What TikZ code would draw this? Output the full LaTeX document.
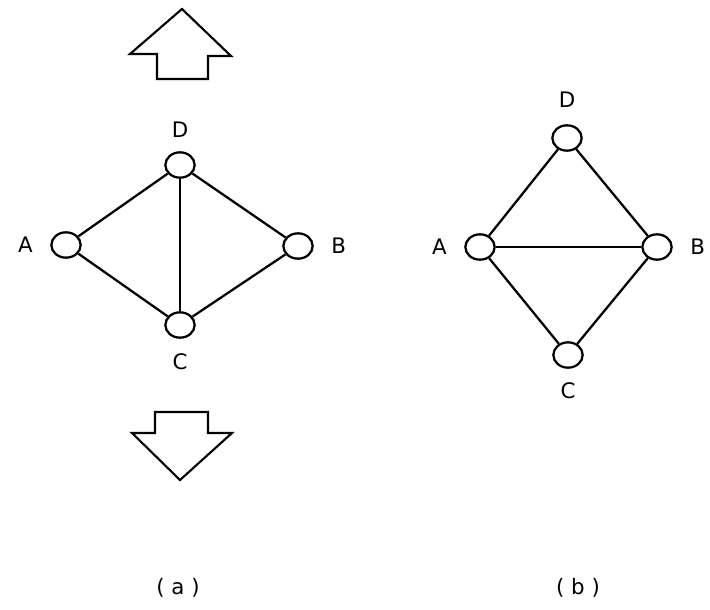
\documentclass[tikz,border=0pt]{standalone}
\usepackage{fontspec}
\setmainfont{DejaVu Sans}
\usepackage{tikz}
\usetikzlibrary{positioning,shapes.geometric}

\begin{document}
\begin{tikzpicture}[x=0.75pt, y=-0.75pt, line width=1.7pt,
    every node/.style={font=\fontsize{16}{18}\selectfont},
    station/.style={draw, ellipse, line width=1.7pt, minimum width=22pt, minimum height=19pt, inner sep=0pt},
    flow/.style={draw, line width=1.6pt, line join=miter}]
        \useasboundingbox (0,0) rectangle (710,610);
        % (a) four stations with a cross link D--C
        \node[station, label={[label distance=6pt]above:D}] (D1) at (180,165) {};
        \node[station, label={[label distance=9pt]left:A}] (A1) at (66,245) {};
        \node[station, label={[label distance=9pt]right:B}] (B1) at (298,246) {};
        \node[station, label={[label distance=7pt]below:C}] (C1) at (180,325) {};
        \draw (A1) -- (D1) -- (B1) -- (C1) -- (A1);
        \draw (D1) -- (C1);
        % flow in and out
        \draw[flow] (182,9) -- (231,56) -- (208,56) -- (208,79) -- (157,79) -- (157,54) -- (130,54) -- cycle;
        \draw[flow] (155,412) -- (208,412) -- (208,433) -- (232,433) -- (180,480) -- (132,433) -- (155,433) -- cycle;
        % (b) cross link A--B
        \node[station, label={[label distance=8pt]above:D}] (D2) at (567,138) {};
        \node[station, label={[label distance=9pt]left:A}] (A2) at (480,247) {};
        \node[station, label={[label distance=9pt]right:B}] (B2) at (657,247) {};
        \node[station, label={[label distance=6pt]below:C}] (C2) at (568,355) {};
        \draw (A2) -- (D2) -- (B2) -- (C2) -- (A2);
        \draw (A2) -- (B2);
        \node (capa) at (178,588) {( a )};
        \node (capb) at (578,588) {( b )};
      \end{tikzpicture}
\end{document}
